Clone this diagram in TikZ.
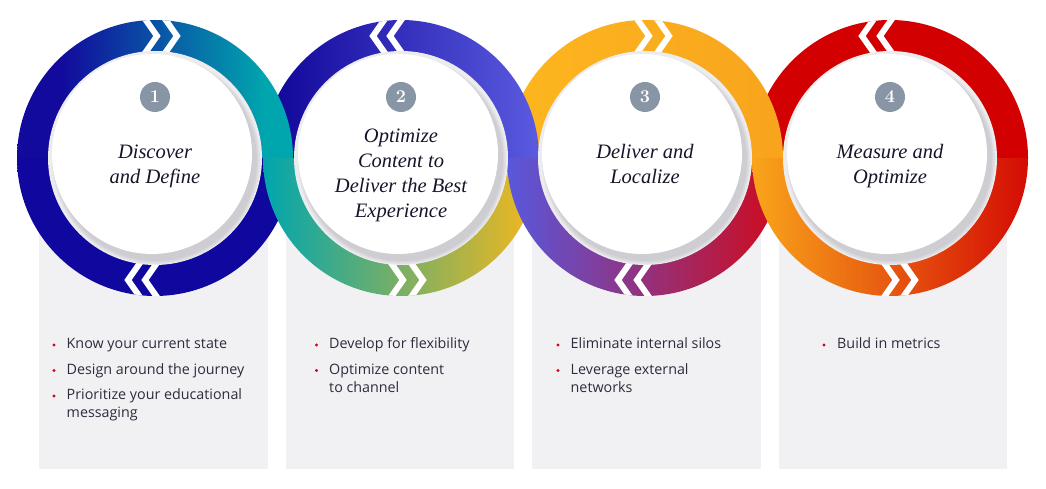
\documentclass[tikz,border=0pt]{standalone}
\usepackage{fontspec}
\newfontfamily\bodyfont{Open Sans}
\newfontfamily\titlefont{Liberation Serif}
\usetikzlibrary{calc}
\definecolor{boxgray}{HTML}{F1F1F4}
\definecolor{badge}{HTML}{8895A5}
\definecolor{titletxt}{HTML}{15152A}
\definecolor{bodytxt}{HTML}{2C2C3C}
\definecolor{dotred}{HTML}{D0021B}
\definecolor{bevel}{HTML}{ECECEF}
\definecolor{shadowc}{HTML}{C4C4C9}
% ring colours
\definecolor{rAbot}{HTML}{10089E}
\definecolor{rBbotL}{HTML}{00A6AE}
\definecolor{rBbotM}{HTML}{57AB74}
\definecolor{rBbotR}{HTML}{F6B81C}
\definecolor{rCbotL}{HTML}{5858DD}
\definecolor{rCbotM}{HTML}{6F46B2}
\definecolor{rCbotR}{HTML}{D00A1A}
\definecolor{rDbotL}{HTML}{F9A51B}
\definecolor{rDbotM}{HTML}{EE6C12}
\definecolor{rDbotR}{HTML}{D40C04}
\definecolor{rDtop}{HTML}{D20000}
\definecolor{rCtopL}{HTML}{FDB71E}
\definecolor{rCtopR}{HTML}{F8A41D}
\definecolor{rBtopL}{HTML}{13099C}
\definecolor{rBtopR}{HTML}{5A5BE0}
\definecolor{rAtopL}{HTML}{120A9D}
\definecolor{rAtopR}{HTML}{00A6AE}
\pgfdeclarehorizontalshading{ringAtop}{100bp}{color(0bp)=(rAtopL); color(33bp)=(rAtopL); color(70bp)=(rAtopR); color(100bp)=(rAtopR)}
\pgfdeclarehorizontalshading{ringBtop}{100bp}{color(0bp)=(rBtopL); color(28bp)=(rBtopL); color(75bp)=(rBtopR); color(100bp)=(rBtopR)}
\newcommand\halfring[4]{%
  \shade[#4] (#1,331) ++(#2:138) arc[start angle=#2,end angle=#3,radius=138]
    -- ++(-32,0) arc[start angle=#3,end angle=#2,radius=106] -- cycle;}
% chevron pair: #1 cx, #2 tip y offset, #3 direction (+1 right, -1 left), #4 #5 tip x offsets, #6 #7 clip angles
\newcommand\chevpair[7]{%
  \begin{scope}
    \clip ($(#1,331)+(#6:138)$) arc[start angle=#6,end angle=#7,radius=138]
      -- ($(#1,331)+(#7:106)$) arc[start angle=#7,end angle=#6,radius=106] -- cycle;
    \foreach \t in {#4,#5}{
      \draw[chevline] ($(#1,331)+(\t-#3*14,#2+20)$) -- ($(#1,331)+(\t,#2)$) -- ($(#1,331)+(\t-#3*14,#2-20)$);
    }
  \end{scope}}
\newcommand\disc[2]{%
  \fill[bevel] (#1,331) circle (107);
  \fill[shadowc,opacity=0.25] (#1+1,329) circle (104);
  \fill[shadowc,opacity=0.35] (#1+1,329) circle (102.5);
  \fill[shadowc,opacity=0.45] (#1+1,329) circle (101);
  \fill[white] (#1-3,335) circle (100);
  \node[badgestyle] (badge#2) at (#1,392) {#2};}
\tikzset{
  boxstyle/.style={fill=boxgray, draw=none},
  chevline/.style={draw=white, line width=6pt, line join=miter},
  badgestyle/.style={circle, fill=badge, minimum size=30pt, inner sep=0pt, text=white,
    font=\bfseries\fontsize{18}{18}\selectfont},
  titlestyle/.style={align=center, inner sep=0pt, text=titletxt, font=\titlefont\itshape\fontsize{20.5}{25}\selectfont},
  btxt/.style={anchor=base west, inner sep=0pt, text=bodytxt, font=\bodyfont\fontsize{14.3}{18}\selectfont},
  bdot/.style={fill=dotred},
}
\begin{document}
\begin{tikzpicture}[x=1pt,y=1pt]
\useasboundingbox (0,0) rectangle (1046,489);
% boxes
\fill[boxstyle] (39,20) rectangle (268,331);
\fill[boxstyle] (286,20) rectangle (514,331);
\fill[boxstyle] (532,20) rectangle (761,331);
\fill[boxstyle] (779,20) rectangle (1007,331);
% bottoms, left to right
\halfring{155}{180}{360}{left color=rAbot, right color=rAbot}
\halfring{401}{180}{360}{left color=rBbotL, middle color=rBbotM, right color=rBbotR}
\halfring{645}{180}{360}{left color=rCbotL, middle color=rCbotM, right color=rCbotR}
\halfring{890}{180}{360}{left color=rDbotL, middle color=rDbotM, right color=rDbotR}
% tops, right to left
\halfring{890}{180}{0}{left color=rDtop, right color=rDtop}
\halfring{645}{180}{0}{left color=rCtopL, right color=rCtopR}
\halfring{401}{180}{0}{shading=ringBtop}
\halfring{155}{180}{0}{shading=ringAtop}
% chevrons
\chevpair{155}{122}{1}{2}{22}{60}{120}
\chevpair{155}{-122}{-1}{-27}{-10}{240}{300}
\chevpair{401}{122}{-1}{-28}{-11}{60}{120}
\chevpair{401}{-122}{1}{2}{22}{240}{300}
\chevpair{645}{122}{1}{4}{24}{60}{120}
\chevpair{645}{-122}{-1}{-27}{-8}{240}{300}
\chevpair{890}{122}{-1}{-28}{-10}{60}{120}
\chevpair{890}{-122}{1}{6}{25}{240}{300}
% discs
\disc{155}{1}
\disc{401}{2}
\disc{645}{3}
\disc{890}{4}
% titles
\node[titlestyle] (t1) at (155,322.9) {\strut Discover\\and Define\strut};
\node[titlestyle] (t2) at (401,314.4) {\strut Optimize\\Content to\\Deliver the Best\\Experience\strut};
\node[titlestyle] (t3) at (645,322.9) {\strut Deliver and\\Localize\strut};
\node[titlestyle] (t4) at (890,322.9) {\strut Measure and\\Optimize\strut};
% bullets box 1
\fill[bdot] (54,144) circle (1.6);
\node[btxt] (a1) at (66.5,140) {Know your current state};
\fill[bdot] (54,118.5) circle (1.6);
\node[btxt] (a2) at (66.5,114.5) {Design around the journey};
\fill[bdot] (54,93) circle (1.6);
\node[btxt] (a3) at (66.5,89) {Prioritize your educational};
\node[btxt] (a3b) at (66.5,71) {messaging};
% box 2
\fill[bdot] (316.5,144) circle (1.6);
\node[btxt] (b1) at (329,140) {Develop for flexibility};
\fill[bdot] (316.5,118.5) circle (1.6);
\node[btxt] (b2) at (329,114.5) {Optimize content};
\node[btxt] (b2b) at (329,96.5) {to channel};
% box 3
\fill[bdot] (558,144) circle (1.6);
\node[btxt] (c1) at (570.5,140) {Eliminate internal silos};
\fill[bdot] (558,118.5) circle (1.6);
\node[btxt] (c2) at (570.5,114.5) {Leverage external};
\node[btxt] (c2b) at (570.5,96.5) {networks};
% box 4
\fill[bdot] (824,144) circle (1.6);
\node[btxt] (d1) at (837,140) {Build in metrics};
\end{tikzpicture}
\end{document}
